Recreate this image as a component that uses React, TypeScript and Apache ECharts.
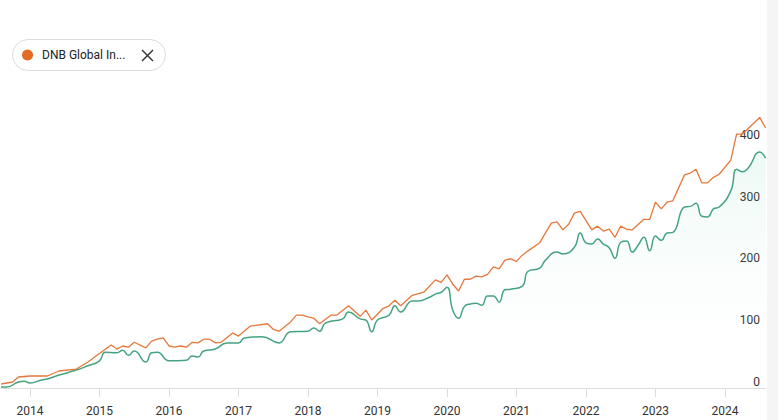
import React, { useEffect, useRef } from "react";
import * as echarts from "echarts";

const orangeDates = [
  "2013-08","2013-10","2013-11","2014-01","2014-04","2014-06","2014-09","2014-11",
  "2015-01","2015-03","2015-04","2015-05","2015-06","2015-07","2015-09","2015-10","2015-11","2015-12",
  "2016-01","2016-02","2016-03","2016-04","2016-05","2016-06","2016-07","2016-08","2016-09","2016-10","2016-12",
  "2017-01","2017-03","2017-06","2017-07","2017-08","2017-10","2017-11","2017-12",
  "2018-01","2018-02","2018-03","2018-05","2018-06","2018-08","2018-10","2018-11","2018-12",
  "2019-02","2019-03","2019-04","2019-05","2019-07","2019-09","2019-11","2019-12",
  "2020-01","2020-02","2020-03","2020-04","2020-05","2020-06","2020-07","2020-08","2020-09","2020-10","2020-11","2020-12",
  "2021-01","2021-02","2021-03","2021-05","2021-07","2021-08","2021-09","2021-10","2021-11","2021-12",
  "2022-02","2022-03","2022-04","2022-05","2022-06","2022-07","2022-08","2022-09","2022-11","2022-12",
  "2023-01","2023-02","2023-03","2023-04","2023-06","2023-07","2023-08","2023-09","2023-10","2023-11","2023-12",
  "2024-02","2024-03","2024-04","2024-07","2024-08",
];
const orangeValues = [
  6.5, 9.7, 17.8, 19.4, 19.4, 27.5, 30.7, 42,
  56, 69.5, 63, 68, 66, 74, 65, 76, 79, 81,
  68, 66, 68, 66, 74, 73, 79, 79, 73, 74, 89,
  84, 100, 104, 95, 92, 107, 118, 118,
  115, 113, 104, 118, 118, 133, 116, 126, 110,
  129, 133, 142, 133, 150, 155, 175, 171,
  183, 168, 157, 176, 176, 181, 180, 184, 196, 193, 207, 209,
  205, 215, 222, 235, 267, 269, 256, 265, 283, 286,
  256, 262, 254, 257, 244, 262, 257, 256, 273, 273,
  301, 290, 301, 303, 345, 348, 354, 332, 332, 341, 346,
  369, 411, 411, 438, 421,
];

const greenDates = [
  "2013-08","2013-09","2013-11","2013-12","2014-01","2014-03","2014-04","2014-06","2014-09","2014-11",
  "2015-01","2015-02","2015-04","2015-05","2015-06","2015-07","2015-09","2015-10","2015-11",
  "2016-01","2016-04","2016-05","2016-06","2016-07","2016-09","2016-11",
  "2017-01","2017-02","2017-05","2017-08","2017-10",
  "2018-01","2018-02","2018-03","2018-04","2018-07","2018-08","2018-10","2018-11","2018-12",
  "2019-01","2019-03","2019-04","2019-05","2019-07","2019-08","2019-10","2019-11","2019-12",
  "2020-01","2020-02","2020-03","2020-04","2020-05","2020-06","2020-07","2020-08","2020-09","2020-10","2020-11","2020-12",
  "2021-02","2021-03","2021-05","2021-06","2021-08","2021-09","2021-11","2021-12",
  "2022-01","2022-02","2022-03","2022-04","2022-05","2022-06","2022-07","2022-08","2022-09","2022-10","2022-11","2022-12",
  "2023-01","2023-02","2023-03","2023-04","2023-06","2023-07","2023-08","2023-09","2023-10","2023-11","2023-12",
  "2024-02","2024-03","2024-04","2024-05","2024-07","2024-08",
];
const greenValues = [
  1.6, 1.6, 9.7, 11, 8, 13, 14.5, 21, 29, 36,
  44, 58, 57, 61, 53, 60, 42, 57, 58,
  44, 45, 52, 50, 60, 63, 73,
  73, 81, 83, 73, 91,
  92, 97, 92, 105, 112, 123, 112, 110, 91,
  110, 118, 133, 123, 141, 141, 147, 152, 155,
  163, 126, 113, 132, 136, 137, 134, 149, 149, 139, 159, 160,
  165, 189, 194, 207, 220, 217, 228, 251,
  235, 233, 241, 233, 227, 210, 236, 238, 220, 231, 244, 222,
  246, 239, 251, 252, 293, 294, 299, 278, 277, 290, 293,
  319, 354, 350, 356, 382, 372,
];

const yearTicks = [2014, 2015, 2016, 2017, 2018, 2019, 2020, 2021, 2022, 2023, 2024];
const valueTicks = [0, 100, 200, 300, 400];
const legendLabel = "DNB Global In...";

const ORANGE = "#E5783A";
const GREEN = "#46A382";

function toYear(d: string): number {
  const [y, m] = d.split("-").map(Number);
  return y + (m - 1) / 12;
}

export default function App() {
  const ref = useRef<HTMLDivElement>(null);
  useEffect(() => {
    if (!ref.current) return;
    const chart = echarts.init(ref.current, undefined, { renderer: "svg" });
    const orangeData = orangeDates.map((d, i) => [toYear(d), orangeValues[i]]);
    const greenData = greenDates.map((d, i) => [toYear(d), greenValues[i]]);
    chart.setOption({
      animation: false,
      backgroundColor: "#ffffff",
      textStyle: { fontFamily: "Roboto" },
      grid: { left: 0, right: 12, top: 110, bottom: 32, containLabel: false },
      xAxis: {
        type: "value",
        min: 2014 - 30 / 69.5,
        max: 2024 + 41 / 69.5,
        splitLine: { show: false },
        axisLine: { show: true, lineStyle: { color: "#dddddd", width: 1 } },
        axisTick: {
          show: true,
          length: 9,
          lineStyle: { color: "#dddddd" },
          customValues: yearTicks,
        },
        axisLabel: {
          customValues: yearTicks,
          margin: 17,
          color: "#333333",
          fontSize: 12,
          fontFamily: "Roboto",
          formatter: (v: number) => String(Math.round(v)),
        },
      },
      yAxis: {
        type: "value",
        position: "right",
        min: 0,
        max: 450,
        splitLine: { show: false },
        axisLine: { show: false },
        axisTick: { show: false },
        axisLabel: {
          inside: true,
          customValues: valueTicks,
          margin: 6,
          color: "#333333",
          fontSize: 12,
          fontFamily: "Roboto",
          verticalAlign: "bottom",
          align: "right",
          padding: [0, 0, 0, 0],
        },
      },
      series: [
        {
          type: "line",
          name: "green",
          data: greenData,
          smooth: 0.5,
          showSymbol: false,
          lineStyle: { color: GREEN, width: 1.5 },
          areaStyle: {
            color: new echarts.graphic.LinearGradient(0, 0, 0, 1, [
              { offset: 0, color: "rgba(80,200,150,0.16)" },
              { offset: 1, color: "rgba(255,255,255,0)" },
            ]),
          },
          z: 2,
        },
        {
          type: "line",
          name: legendLabel,
          data: orangeData,
          smooth: false,
          showSymbol: false,
          lineStyle: { color: ORANGE, width: 1.3 },
          z: 3,
        },
      ],
      graphic: [
        {
          type: "rect",
          shape: { x: 767, y: 0, width: 11, height: 420 },
          style: { fill: "#f5f5f5" },
          z: 10,
        },
        {
          type: "group",
          z: 20,
          children: [
            {
              type: "rect",
              shape: { x: 12.5, y: 39.5, width: 153, height: 31, r: 15.5 },
              style: { fill: "#ffffff", stroke: "#dcdcdc", lineWidth: 1 },
            },
            {
              type: "circle",
              shape: { cx: 27.5, cy: 55, r: 5.5 },
              style: { fill: "#E06C25" },
            },
            {
              type: "text",
              x: 42,
              y: 55,
              style: {
                text: legendLabel,
                font: "12px Roboto",
                fill: "#222222",
                verticalAlign: "middle",
                align: "left",
              },
            },
            {
              type: "line",
              shape: { x1: 142, y1: 50, x2: 153, y2: 61 },
              style: { stroke: "#333333", lineWidth: 1.4 },
            },
            {
              type: "line",
              shape: { x1: 153, y1: 50, x2: 142, y2: 61 },
              style: { stroke: "#333333", lineWidth: 1.4 },
            },
          ],
        },
      ],
    });
    return () => chart.dispose();
  }, []);
  return (
    <div
      ref={ref}
      style={{ position: "fixed", left: 0, top: 0, width: 778, height: 420 }}
    />
  );
}
